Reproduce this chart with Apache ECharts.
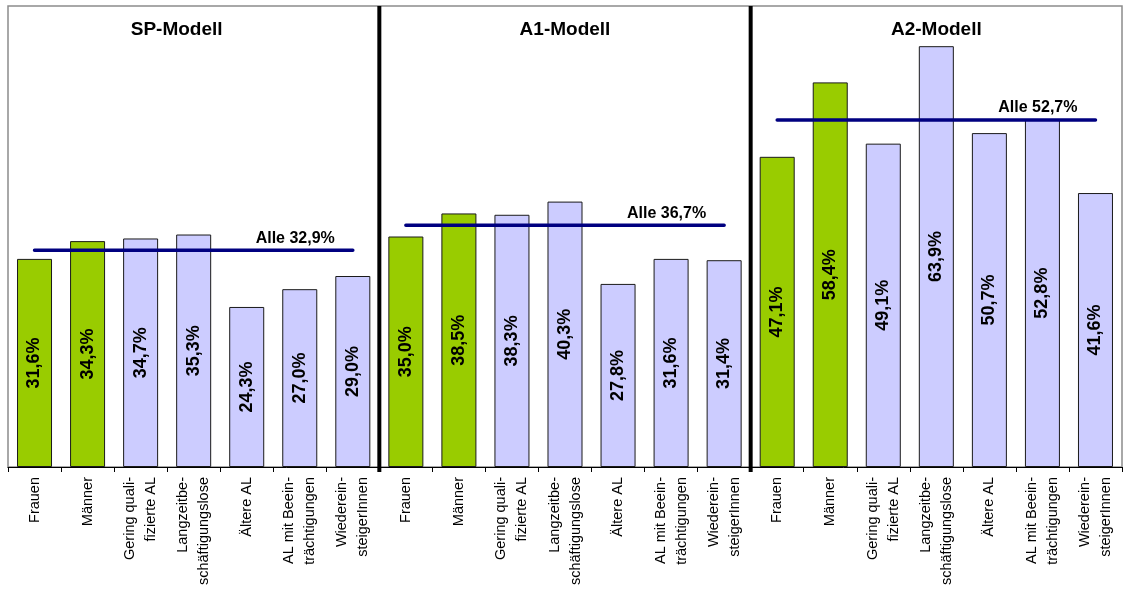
<!DOCTYPE html>
<html>
<head>
<meta charset="utf-8">
<script src="https://cdn.jsdelivr.net/npm/echarts@6/dist/echarts.min.js"></script>
<style>
  html, body { margin: 0; padding: 0; background: #fff; }
  #chart { width: 1124px; height: 591px; }
</style>
</head>
<body>
<div id="chart"></div>
<script>
// Groups shown in every model panel
const groups = [
  'Frauen',
  'Männer',
  'Gering quali-\nfizierte AL',
  'Langzeitbe-\nschäftigungslose',
  'Ältere AL',
  'AL mit Beein-\nträchtigungen',
  'Wiederein-\nsteigerInnen'
];
const models = ['SP-Modell', 'A1-Modell', 'A2-Modell'];

// Shares per group, one array per model (in %)
const spValues = [31.6, 34.3, 34.7, 35.3, 24.3, 27.0, 29.0];
const a1Values = [35.0, 38.5, 38.3, 40.3, 27.8, 31.6, 31.4];
const a2Values = [47.1, 58.4, 49.1, 63.9, 50.7, 52.8, 41.6];

// Overall share ("Alle") per model
const alleValues = [32.9, 36.7, 52.7];

const FONT = '"Liberation Sans", Arial, sans-serif';
const GREEN = '#99CC00';
const LAVENDER = '#CCCCFF';
const Y_MAX = 70;
const n = groups.length;
const fmt = v => v.toFixed(1).replace('.', ',') + '%';

const modelValues = [spValues, a1Values, a2Values];
const categories = [];
const barData = [];
modelValues.forEach(vals => {
  vals.forEach((v, i) => {
    categories.push(groups[i]);
    barData.push({
      value: v,
      itemStyle: { color: i < 2 ? GREEN : LAVENDER }
    });
  });
});
const total = categories.length;

// Boundaries between model panels, in category units
const dividers = models.slice(1).map((_, p) => [(p + 1) * n]);

// One horizontal "Alle" line per model panel
const alleSeries = alleValues.map((a, p) => {
  const data = categories.map((_, idx) => {
    if (Math.floor(idx / n) !== p) return null;
    if (idx === p * n + n - 1) {
      return {
        value: a,
        label: {
          show: true,
          formatter: 'Alle ' + fmt(a),
          position: 'top',
          align: 'right',
          distance: 4,
          offset: [-18, 0],
          fontFamily: FONT,
          fontWeight: 'bold',
          fontSize: 16,
          color: '#000'
        }
      };
    }
    return a;
  });
  return {
    type: 'line',
    data: data,
    symbol: 'circle',
    symbolSize: 0.1,
    showSymbol: true,
    connectNulls: false,
    lineStyle: { color: '#000080', width: 3.5, cap: 'round' },
    itemStyle: { color: '#000080' },
    z: 5,
    silent: true
  };
});

const chart = echarts.init(document.getElementById('chart'), null, { renderer: 'canvas' });

const gridLeft = 8, gridRight = 2;
const plotW = 1124 - gridLeft - gridRight;
const titleShift = [-22, -5, -5];

chart.setOption({
  animation: false,
  backgroundColor: '#fff',
  title: models.map((m, p) => ({
    text: m,
    left: gridLeft + plotW * (p * n + n / 2) / total + titleShift[p],
    top: 15,
    textAlign: 'center',
    textStyle: { fontFamily: FONT, fontWeight: 'bold', fontSize: 19, color: '#000' }
  })),
  grid: {
    left: gridLeft, right: gridRight, top: 6, bottom: 124,
    show: true, borderColor: '#8c8c8c', borderWidth: 1.5, backgroundColor: '#fff'
  },
  xAxis: [
    {
      type: 'category',
      data: categories,
      boundaryGap: true,
      axisLine: { show: true, lineStyle: { color: '#000', width: 1 } },
      axisTick: { show: true, length: 5, lineStyle: { color: '#000', width: 1 } },
      axisLabel: {
        interval: 0,
        rotate: 90,
        margin: 10,
        fontFamily: FONT,
        fontSize: 14.5,
        lineHeight: 21,
        color: '#000'
      },
      splitLine: { show: false },
      z: 10
    },
    {
      // continuous axis over the same span, used to place panel dividers
      type: 'value',
      min: 0,
      max: total,
      show: false
    }
  ],
  yAxis: {
    type: 'value',
    min: 0,
    max: Y_MAX,
    show: false,
    splitLine: { show: false }
  },
  series: [
    {
      type: 'bar',
      data: barData,
      barWidth: '66%',
      itemStyle: { borderColor: '#1a1a1a', borderWidth: 1 },
      label: {
        show: true,
        position: 'inside',
        rotate: 90,
        formatter: p => fmt(p.value),
        fontFamily: FONT,
        fontWeight: 'bold',
        fontSize: 18,
        color: '#000'
      },
      z: 3,
      silent: true
    },
    ...alleSeries,
    {
      // thick vertical dividers between the model panels
      type: 'custom',
      xAxisIndex: 1,
      data: dividers,
      clip: false,
      silent: true,
      z: 12,
      renderItem: (params, api) => {
        const top = api.coord([api.value(0), Y_MAX]);
        const bottom = api.coord([api.value(0), 0]);
        return {
          type: 'line',
          shape: { x1: top[0], y1: top[1], x2: bottom[0], y2: bottom[1] + 5 },
          style: { stroke: '#000', lineWidth: 4 }
        };
      }
    }
  ]
});
</script>
</body>
</html>
